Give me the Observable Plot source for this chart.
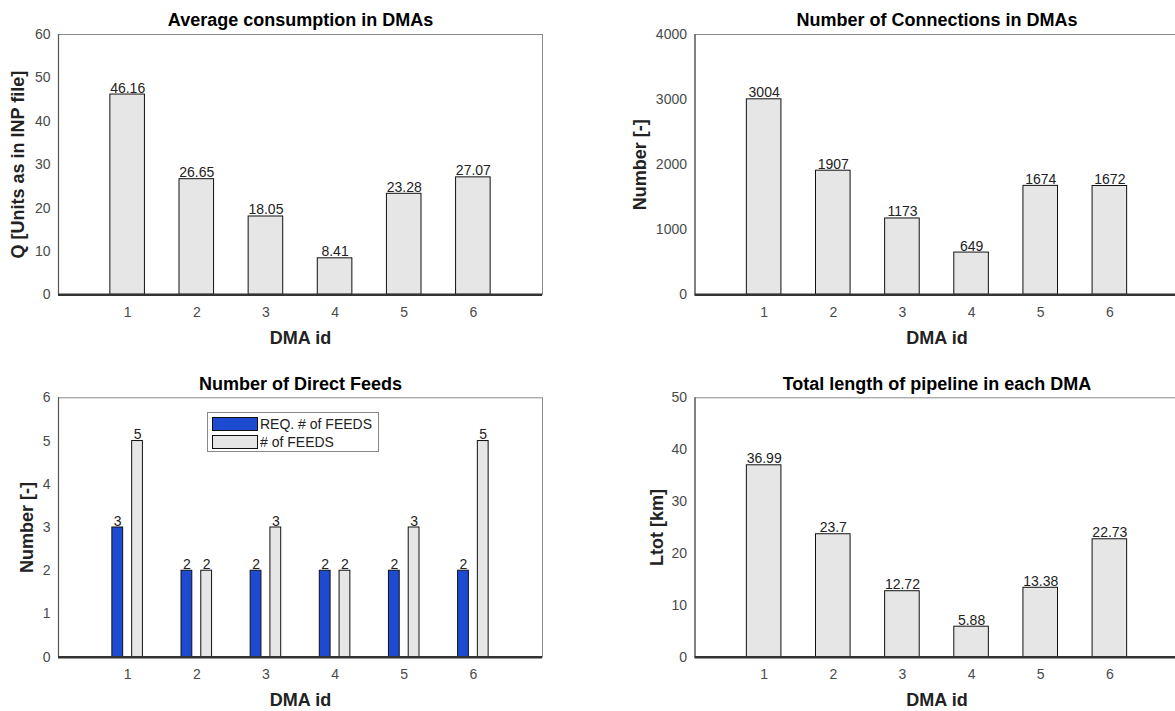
<!DOCTYPE html>
<html>
<head>
<meta charset="utf-8">
<script src="https://cdn.jsdelivr.net/npm/d3@7"></script>
<script src="https://cdn.jsdelivr.net/npm/@observablehq/plot@0.6"></script>
<style>
  html, body { margin: 0; padding: 0; background: #fff; overflow: hidden; }
  #root { position: relative; width: 1175px; height: 711px; overflow: hidden; background: #fff;
          font-family: "Liberation Sans", Arial, Helvetica, sans-serif; }
  #root > .panel { position: absolute; }
  .legend { position: absolute; border: 1px solid #888; background: #fff; font-size: 14px; color: #222;
            padding: 2px 4px 2px 4px; box-sizing: border-box; }
  .legend .row { display: flex; align-items: center; height: 18px; }
  .legend .sw { width: 46px; height: 14px; border: 1px solid #111; margin-right: 2px; box-sizing: border-box; }
</style>
</head>
<body>
<div id="root"></div>
<script>
// ---------------- data ----------------
const dmaIds = [1, 2, 3, 4, 5, 6];
const avgConsumption = [46.16, 26.65, 18.05, 8.41, 23.28, 27.07];
const connections = [3004, 1907, 1173, 649, 1674, 1672];
const reqFeeds = [3, 2, 2, 2, 2, 2];
const numFeeds = [5, 2, 3, 2, 3, 5];
const pipeLength = [36.99, 23.7, 12.72, 5.88, 13.38, 22.73];

const titles = ["Average consumption in DMAs", "Number of Connections in DMAs",
                "Number of Direct Feeds", "Total length of pipeline in each DMA"];
const yLabels = ["Q [Units as in INP file]", "Number [-]", "Number [-]", "Ltot [km]"];
const xLabel = "DMA id";
const legendLabels = ["REQ. # of FEEDS", "# of FEEDS"];
const yTicksConsumption = [0, 10, 20, 30, 40, 50, 60];
const yTicksConnections = [0, 1000, 2000, 3000, 4000];
const yTicksFeeds = [0, 1, 2, 3, 4, 5, 6];
const yTicksLength = [0, 10, 20, 30, 40, 50];
const xTicks = [1, 2, 3, 4, 5, 6];

// ---------------- styles ----------------
const FONT = "'Liberation Sans', Arial, Helvetica, sans-serif";
const BAR_FILL = "#e6e6e6";
const BLUE = "#1c4bd2";
const TICK_COLOR = "#4a4a4a";

function panel(opts) {
  const {series, yTicks, title, ylabel, mL, mR, mT, mB, width, height, ylabDx} = opts;
  const marks = [
    Plot.frame({stroke: "#8a8a8a", strokeWidth: 1}),
  ];
  series.forEach(s => {
    const data = dmaIds.map((id, i) => ({id, value: s.values[i]}));
    marks.push(Plot.rectY(data, {
      x1: d => d.id + s.offset - s.half,
      x2: d => d.id + s.offset + s.half,
      y1: 0, y2: "value",
      fill: s.fill, stroke: "#111", strokeWidth: 1
    }));
    marks.push(Plot.text(data, {
      x: d => d.id + s.offset, y: "value", text: d => String(d.value),
      lineAnchor: "bottom", dy: -2, fontSize: 14, fill: "#222",
      style: {letterSpacing: "0.5px"}
    }));
  });
  marks.push(
    Plot.ruleX([0], {stroke: "#555", strokeWidth: 1.2}),
    Plot.ruleY([0], {stroke: "#333", strokeWidth: 2.5}),
    Plot.axisX({ticks: xTicks, tickSize: 0, tickPadding: 12, fontSize: 14, color: TICK_COLOR, label: null,
                tickFormat: d => String(d)}),
    Plot.axisY({ticks: yTicks, tickSize: 0, tickPadding: 8, fontSize: 14, color: TICK_COLOR, label: null,
                tickFormat: d => String(d)}),
    Plot.text([title], {frameAnchor: "top", dy: -14, lineAnchor: "middle", textAnchor: "middle",
                        fontWeight: "bold", fontSize: 18, fill: "#000"}),
    Plot.text([xLabel], {frameAnchor: "bottom", dy: 43, lineAnchor: "middle", textAnchor: "middle",
                         fontWeight: "bold", fontSize: 18, fill: "#222"}),
    Plot.text([ylabel], {frameAnchor: "left", dx: ylabDx, rotate: -90, lineAnchor: "middle",
                         textAnchor: "middle", fontWeight: "bold", fontSize: 18, fill: "#222"})
  );
  return Plot.plot({
    width, height,
    marginLeft: mL, marginRight: mR, marginTop: mT, marginBottom: mB,
    style: {fontFamily: FONT, fontSize: "14px", background: "transparent", overflow: "visible"},
    x: {domain: [0, 7], axis: null},
    y: {domain: [yTicks[0], yTicks[yTicks.length - 1]], axis: null},
    marks
  });
}

const root = document.getElementById("root");
function place(svg, left, top) {
  svg.classList.add("panel");
  svg.style.left = left + "px";
  svg.style.top = top + "px";
  root.appendChild(svg);
}

const single = v => [{values: v, offset: 0, half: 0.25, fill: BAR_FILL}];

place(panel({series: single(avgConsumption), yTicks: yTicksConsumption, title: titles[0], ylabel: yLabels[0],
  width: 580, height: 360, mL: 58, mR: 38, mT: 34, mB: 65.7, ylabDx: -40}), 0, 0);

place(panel({series: single(connections), yTicks: yTicksConnections, title: titles[1], ylabel: yLabels[1],
  width: 580, height: 360, mL: 74.5, mR: 21.5, mT: 34, mB: 65.7, ylabDx: -55}), 620, 0);

place(panel({series: [
    {values: reqFeeds, offset: -0.143, half: 0.078, fill: BLUE},
    {values: numFeeds, offset: 0.143, half: 0.078, fill: BAR_FILL}
  ], yTicks: yTicksFeeds, title: titles[2], ylabel: yLabels[2],
  width: 580, height: 351, mL: 58, mR: 38, mT: 37.3, mB: 54.3, ylabDx: -31}), 0, 360);

place(panel({series: single(pipeLength), yTicks: yTicksLength, title: titles[3], ylabel: yLabels[3],
  width: 580, height: 351, mL: 74.5, mR: 21.5, mT: 37.3, mB: 54.3, ylabDx: -37.5}), 620, 360);

// legend (inside the Direct Feeds axes)
const legend = document.createElement("div");
legend.className = "legend";
legend.style.left = "207px";
legend.style.top = "412px";
legend.style.width = "172px";
legend.style.height = "40px";
[[BLUE, legendLabels[0]], [BAR_FILL, legendLabels[1]]].forEach(([c, t]) => {
  const row = document.createElement("div");
  row.className = "row";
  const sw = document.createElement("div");
  sw.className = "sw";
  sw.style.background = c;
  const lab = document.createElement("span");
  lab.textContent = t;
  row.appendChild(sw); row.appendChild(lab);
  legend.appendChild(row);
});
root.appendChild(legend);
</script>
</body>
</html>
